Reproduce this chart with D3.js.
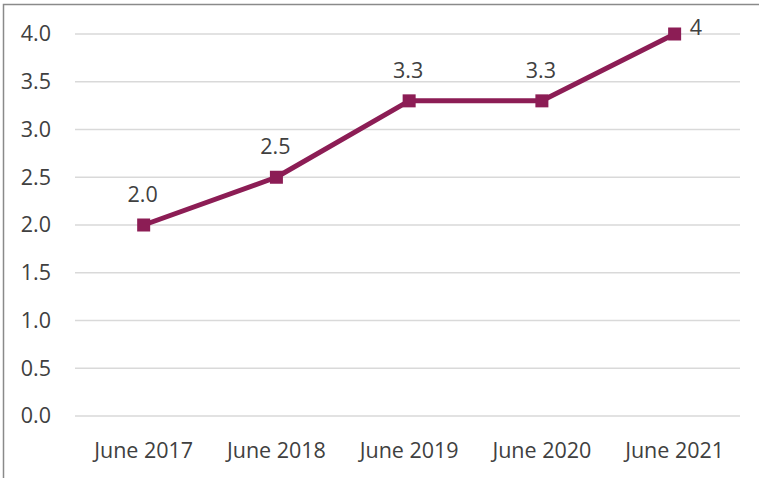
<!DOCTYPE html>
<html>
<head>
<meta charset="utf-8">
<script src="https://cdn.jsdelivr.net/npm/d3@7"></script>
<style>
  body { margin: 0; background: #fff; }
  text { font-family: "Open Sans", "Noto Sans", sans-serif; fill: #404040; }
</style>
</head>
<body>
<div id="container"></div>
<script>
const categories = ["June 2017", "June 2018", "June 2019", "June 2020", "June 2021"];
const values = [2.0, 2.5, 3.3, 3.3, 4];
const labels = ["2.0", "2.5", "3.3", "3.3", "4"];
const yTicks = [0, 0.5, 1, 1.5, 2, 2.5, 3, 3.5, 4];

const w = 759, h = 478;
const padLeft = 75, padRight = 740, padTop = 34, padBottom = 416;
const color = "#8C1D55";
const fontSize = "21.5px";

const svg = d3.select("#container")
  .append("svg")
  .attr("width", w)
  .attr("height", h);

// chart border (only top/left visible in the frame)
svg.append("rect")
  .attr("x", 3.5).attr("y", 4.5)
  .attr("width", w + 10).attr("height", h + 10)
  .attr("fill", "none")
  .attr("stroke", "#8a8a8a")
  .attr("stroke-width", 1.5);

const xScale = d3.scaleBand()
  .domain(categories)
  .range([77.3, 741]);

const yScale = d3.scaleLinear()
  .domain([0, 4])
  .range([padBottom, padTop]);

// gridlines
svg.append("g")
  .selectAll("line")
  .data(yTicks)
  .enter()
  .append("line")
  .attr("x1", padLeft)
  .attr("x2", padRight)
  .attr("y1", d => yScale(d))
  .attr("y2", d => yScale(d))
  .attr("stroke", "#d9d9d9")
  .attr("stroke-width", 1.3);

// y axis labels
const yAxis = d3.axisLeft(yScale)
  .tickValues(yTicks)
  .tickFormat(d3.format(".1f"))
  .tickSize(0)
  .tickPadding(0);

const gy = svg.append("g")
  .attr("transform", "translate(51,0)")
  .call(yAxis);
gy.select(".domain").remove();
gy.selectAll("text").style("font-size", fontSize).attr("fill", "#404040");

// x axis labels
const xAxis = d3.axisBottom(xScale).tickSize(0).tickPadding(0);
const gx = svg.append("g")
  .attr("transform", "translate(0,443)")
  .call(xAxis);
gx.select(".domain").remove();
gx.selectAll("text").style("font-size", fontSize).attr("fill", "#404040");

const cx = d => xScale(d) + xScale.bandwidth() / 2;

const line = d3.line()
  .x((d, i) => cx(categories[i]))
  .y(d => yScale(d));

svg.append("path")
  .datum(values)
  .attr("d", line)
  .attr("fill", "none")
  .attr("stroke", color)
  .attr("stroke-width", 5)
  .attr("stroke-linejoin", "round");

svg.selectAll("rect.marker")
  .data(values)
  .enter()
  .append("rect")
  .classed("marker", true)
  .attr("x", (d, i) => cx(categories[i]) - 6.5)
  .attr("y", d => yScale(d) - 6.5)
  .attr("width", 13)
  .attr("height", 13)
  .attr("fill", color);

// data labels: above, except the last one which sits to the right
svg.selectAll("text.lbl")
  .data(values)
  .enter()
  .append("text")
  .classed("lbl", true)
  .attr("x", (d, i) => i === values.length - 1 ? cx(categories[i]) + 15 : cx(categories[i]) - 1)
  .attr("y", (d, i) => i === values.length - 1 ? yScale(d) + 1 : yScale(d) - 23)
  .attr("text-anchor", (d, i) => i === values.length - 1 ? "start" : "middle")
  .style("font-size", fontSize)
  .text((d, i) => labels[i]);
</script>
</body>
</html>
